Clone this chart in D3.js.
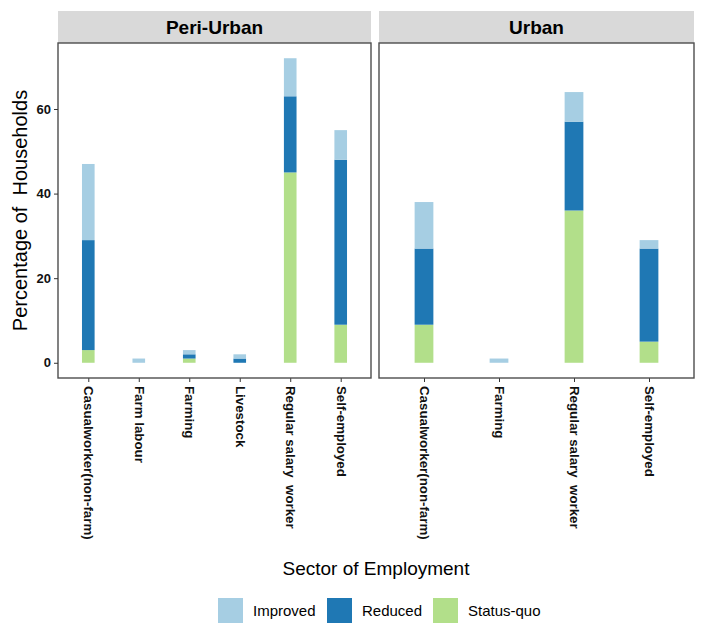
<!DOCTYPE html>
<html lang="en">
<head>
  <meta charset="UTF-8">
  <title>Employment sector change</title>
  <script src="https://d3js.org/d3.v7.min.js"></script>
  <style>
    body { margin: 0; background: #fff; }
    svg { display: block; font-family: 'Liberation Sans', Arial, sans-serif; }
  </style>
</head>
<body>
  <svg id="chart" width="708" height="632"></svg>
  <script>
    // data
    const panels = ["Peri-Urban", "Urban"];
    const periCategories = ["Casualworker(non-farm)", "Farm labour", "Farming", "Livestock", "Regular salary  worker", "Self-employed"];
    const urbanCategories = ["Casualworker(non-farm)", "Farming", "Regular salary  worker", "Self-employed"];
    const statusKeys = ["Improved", "Reduced", "Status-quo"];
    const statusColors = ["#a6cee3", "#1f78b4", "#b2df8a"];

    const periImproved = [18, 1, 1, 1, 9, 7];
    const periReduced  = [26, 0, 1, 1, 18, 39];
    const periStatus   = [3, 0, 1, 0, 45, 9];

    const urbanImproved = [11, 1, 7, 2];
    const urbanReduced  = [18, 0, 21, 22];
    const urbanStatus   = [9, 0, 36, 5];

    const yTicks = [0, 20, 40, 60];

    const rows = (cats, imp, red, sq) => cats.map((c, i) => ({
      cat: c, "Improved": imp[i], "Reduced": red[i], "Status-quo": sq[i]
    }));
    const panelData = [
      { name: panels[0], cats: periCategories, rows: rows(periCategories, periImproved, periReduced, periStatus), x0: 58, x1: 371 },
      { name: panels[1], cats: urbanCategories, rows: rows(urbanCategories, urbanImproved, urbanReduced, urbanStatus), x0: 379, x1: 694 }
    ];

    const svg = d3.select("#chart");
    const plotTop = 43, plotBottom = 378, stripTop = 11;

    const color = d3.scaleOrdinal().domain(statusKeys).range(statusColors);
    const y = d3.scaleLinear().domain([-3.6, 75.6]).range([plotBottom, plotTop]);
    const stack = d3.stack().keys(["Status-quo", "Reduced", "Improved"]);

    panelData.forEach(p => {
      const x = d3.scalePoint().domain(p.cats).range([p.x0, p.x1]).padding(0.6);
      const barW = x.step() * 0.25;

      // strip
      svg.append("rect")
        .attr("x", p.x0).attr("y", stripTop)
        .attr("width", p.x1 - p.x0).attr("height", plotTop - stripTop)
        .attr("fill", "#d9d9d9");
      svg.append("text")
        .attr("x", (p.x0 + p.x1) / 2).attr("y", (stripTop + plotTop) / 2)
        .attr("dy", "0.36em")
        .attr("text-anchor", "middle")
        .style("font-size", "19px").style("font-weight", "bold")
        .text(p.name);

      // bars
      const series = stack(p.rows);
      svg.append("g").selectAll("g")
        .data(series)
        .join("g")
        .attr("fill", d => color(d.key))
        .selectAll("rect")
        .data(d => d)
        .join("rect")
        .attr("x", d => x(d.data.cat) - barW / 2)
        .attr("width", barW)
        .attr("y", d => y(d[1]))
        .attr("height", d => y(d[0]) - y(d[1]));

      // x axis
      const xAxis = svg.append("g")
        .attr("transform", `translate(0,${plotBottom})`)
        .call(d3.axisBottom(x).tickSize(4).tickPadding(3));
      xAxis.select(".domain").remove();
      xAxis.selectAll(".tick line").attr("stroke", "#333");
      xAxis.selectAll(".tick text")
        .attr("transform", "rotate(90)")
        .attr("x", 8).attr("y", 0).attr("dy", "0.35em")
        .attr("text-anchor", "start")
        .attr("fill", "#111")
        .style("font-size", "13.3px").style("font-weight", "bold")
        .style("white-space", "pre");

      // panel border
      svg.append("rect")
        .attr("x", p.x0).attr("y", plotTop)
        .attr("width", p.x1 - p.x0).attr("height", plotBottom - plotTop)
        .attr("fill", "none").attr("stroke", "#4d4d4d").attr("stroke-width", 1.4);
    });

    // y axis
    const yAxis = svg.append("g")
      .attr("transform", `translate(${panelData[0].x0},0)`)
      .call(d3.axisLeft(y).tickValues(yTicks).tickSize(4).tickPadding(3));
    yAxis.select(".domain").remove();
    yAxis.selectAll(".tick line").attr("stroke", "#333");
    yAxis.selectAll(".tick text")
      .attr("fill", "#111")
      .style("font-size", "13px").style("font-weight", "bold");

    svg.append("text")
      .attr("transform", `translate(27,${(plotTop + plotBottom) / 2}) rotate(-90)`)
      .attr("text-anchor", "middle")
      .style("font-size", "20px")
      .style("white-space", "pre")
      .text("Percentage of  Households");

    svg.append("text")
      .attr("x", (panelData[0].x0 + panelData[1].x1) / 2).attr("y", 575)
      .attr("text-anchor", "middle")
      .style("font-size", "19px")
      .text("Sector of Employment");

    // legend
    const legendX = [218, 327, 433];
    const legend = svg.append("g").selectAll("g")
      .data(statusKeys)
      .join("g")
      .attr("transform", (d, i) => `translate(${legendX[i]},598)`);
    legend.append("rect")
      .attr("width", 25).attr("height", 25)
      .attr("fill", d => color(d));
    legend.append("text")
      .attr("x", 35).attr("y", 12.5).attr("dy", "0.36em")
      .style("font-size", "15px")
      .text(d => d);
  </script>
</body>
</html>
